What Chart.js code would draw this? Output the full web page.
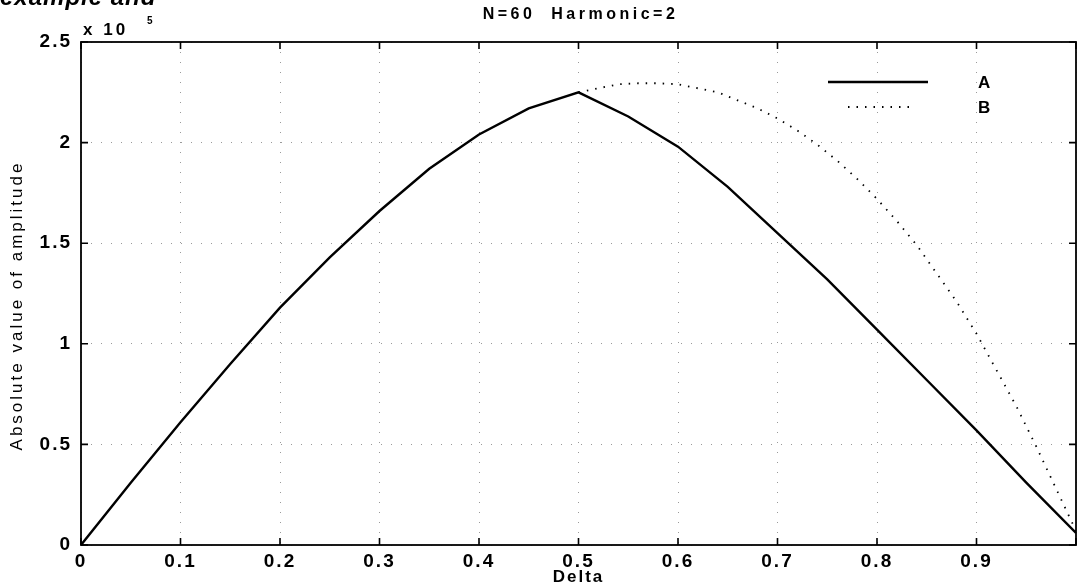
<!DOCTYPE html>
<html>
<head>
<meta charset="utf-8">
<script src="https://cdn.jsdelivr.net/npm/chart.js@4.4.1/dist/chart.umd.min.js"></script>
<style>
  html, body { margin: 0; padding: 0; background: #fff; }
</style>
</head>
<body>
<canvas id="myChart" width="1081" height="586"></canvas>
<script>
// curve A (solid), units of 1e5
const deltaA = [0, 0.05, 0.1, 0.15, 0.2, 0.25, 0.3, 0.35, 0.4, 0.45, 0.5,
                0.55, 0.6, 0.65, 0.7, 0.75, 0.8, 0.85, 0.9, 0.95, 1.0];
const ampA = [0, 0.31, 0.61, 0.90, 1.18, 1.43, 1.66, 1.87, 2.04, 2.17, 2.25,
              2.13, 1.98, 1.78, 1.55, 1.32, 1.07, 0.82, 0.57, 0.31, 0.06];

// curve B (dotted), same as A up to 0.5
const deltaB = [0.5, 0.52, 0.54, 0.56, 0.58, 0.6, 0.62, 0.64, 0.66, 0.68, 0.7,
                0.72, 0.74, 0.76, 0.78, 0.8, 0.82, 0.84, 0.86, 0.88, 0.9,
                0.92, 0.94, 0.96, 0.98, 1.0];
const ampB = [2.25, 2.27, 2.29, 2.295, 2.295, 2.29, 2.27, 2.25, 2.21, 2.17, 2.12,
              2.06, 1.99, 1.91, 1.82, 1.72, 1.61, 1.49, 1.35, 1.21, 1.05,
              0.87, 0.69, 0.49, 0.28, 0.07];

const xTickValues = [0, 0.1, 0.2, 0.3, 0.4, 0.5, 0.6, 0.7, 0.8, 0.9, 1];
const xTickLabels = ['0', '0.1', '0.2', '0.3', '0.4', '0.5', '0.6', '0.7', '0.8', '0.9', ''];
const yTickValues = [0, 0.5, 1, 1.5, 2, 2.5];
const yTickLabels = ['0', '0.5', '1', '1.5', '2', '2.5'];

const FONT = "'Liberation Sans', Arial, sans-serif";

function toPoints(xs, ys) {
    const pts = [];
    for (let i = 0; i < xs.length; i++) {
        pts.push({ x: xs[i], y: ys[i] });
    }
    return pts;
}

function text(ctx, str, x, y, font, align, spacing) {
    ctx.save();
    ctx.font = font;
    ctx.letterSpacing = spacing || '0px';
    ctx.fillStyle = '#000';
    ctx.textAlign = align || 'left';
    ctx.textBaseline = 'middle';
    ctx.fillText(str, x, y);
    ctx.restore();
}

// matlab-like frame: box, inward ticks, legend, title, labels
const matlabFrame = {
    id: 'matlabFrame',
    beforeDraw(chart) {
        const ctx = chart.ctx;
        ctx.save();
        ctx.fillStyle = '#fff';
        ctx.fillRect(0, 0, chart.width, chart.height);
        ctx.restore();
        ctx.letterSpacing = '2px';
    },
    afterDraw(chart) {
        const ctx = chart.ctx;
        const a = chart.chartArea;
        const xs = chart.scales.x;
        const ys = chart.scales.y;

        ctx.save();
        ctx.letterSpacing = '0px';
        ctx.strokeStyle = '#000';
        ctx.lineWidth = 1.8;
        ctx.strokeRect(a.left, a.top, a.right - a.left, a.bottom - a.top);

        const tl = 7;
        ctx.lineWidth = 1.6;
        ctx.beginPath();
        xTickValues.forEach(v => {
            const px = xs.getPixelForValue(v);
            ctx.moveTo(px, a.bottom); ctx.lineTo(px, a.bottom - tl);
            ctx.moveTo(px, a.top); ctx.lineTo(px, a.top + tl);
        });
        yTickValues.forEach(v => {
            const py = ys.getPixelForValue(v);
            ctx.moveTo(a.left, py); ctx.lineTo(a.left + tl, py);
            ctx.moveTo(a.right, py); ctx.lineTo(a.right - tl, py);
        });
        ctx.stroke();

        // legend
        const dsA = chart.data.datasets[0];
        const dsB = chart.data.datasets[1];
        ctx.strokeStyle = dsA.borderColor;
        ctx.lineWidth = dsA.borderWidth;
        ctx.beginPath();
        ctx.moveTo(a.right - 248, 82); ctx.lineTo(a.right - 148, 82);
        ctx.stroke();
        ctx.lineWidth = dsB.borderWidth;
        ctx.setLineDash(dsB.borderDash);
        ctx.beginPath();
        ctx.moveTo(a.right - 228, 107); ctx.lineTo(a.right - 163, 107);
        ctx.stroke();
        ctx.restore();

        text(ctx, dsA.label, a.right - 98, 83, 'bold 17px ' + FONT, 'left', '1px');
        text(ctx, dsB.label, a.right - 98, 108, 'bold 17px ' + FONT, 'left', '1px');

        // title
        text(ctx, 'N=60  Harmonic=2', (a.left + a.right) / 2 + 2, 15, 'bold 16px ' + FONT, 'center', '3.5px');
        // exponent
        text(ctx, 'x 10', a.left + 2, 30, 'bold 17px ' + FONT, 'left', '3px');
        text(ctx, '5', a.left + 66, 21, 'bold 10px ' + FONT, 'left', '0px');
        // axis titles
        text(ctx, 'Delta', (a.left + a.right) / 2, 577, 'bold 17px ' + FONT, 'center', '2px');
        ctx.save();
        ctx.translate(17, (a.top + a.bottom) / 2 + 12);
        ctx.rotate(-Math.PI / 2);
        text(ctx, 'Absolute value of amplitude', 0, 0, '17px ' + FONT, 'center', '3px');
        ctx.restore();

        // cropped caption from the page above
        ctx.save();
        ctx.font = 'italic bold 24px ' + FONT;
        ctx.letterSpacing = '1px';
        ctx.fillStyle = '#000';
        ctx.textBaseline = 'alphabetic';
        ctx.fillText('example and', 0, 5);
        ctx.restore();
    }
};

const ctx = document.getElementById('myChart').getContext('2d');
const myChart = new Chart(ctx, {
    type: 'line',
    data: {
        datasets: [{
            label: 'A',
            data: toPoints(deltaA, ampA),
            borderColor: '#000',
            borderWidth: 2.4,
            pointRadius: 0,
            tension: 0,
            fill: false
        }, {
            label: 'B',
            data: toPoints(deltaB, ampB),
            borderColor: '#000',
            borderWidth: 1.8,
            borderDash: [1.5, 7],
            pointRadius: 0,
            tension: 0,
            fill: false
        }]
    },
    options: {
        responsive: false,
        animation: false,
        devicePixelRatio: 1,
        layout: { padding: { top: 42, right: 3, left: 0, bottom: 0 } },
        plugins: {
            legend: { display: false },
            title: { display: false },
            tooltip: { enabled: false }
        },
        scales: {
            x: {
                type: 'linear',
                min: 0,
                max: 1,
                afterBuildTicks: (scale) => {
                    scale.ticks = xTickValues.map(v => ({ value: v }));
                },
                afterFit: (scale) => { scale.height = 41; },
                ticks: {
                    autoSkip: false,
                    maxRotation: 0,
                    padding: 5,
                    color: '#000',
                    font: { family: FONT, size: 19, weight: 'bold' },
                    callback: (v, i) => xTickLabels[i]
                },
                grid: { color: '#9a9a9a', lineWidth: 1, drawTicks: false },
                border: { display: false, dash: [1, 9] }
            },
            y: {
                type: 'linear',
                min: 0,
                max: 2.5,
                afterBuildTicks: (scale) => {
                    scale.ticks = yTickValues.map(v => ({ value: v }));
                },
                afterFit: (scale) => { scale.width = 81; },
                ticks: {
                    padding: 9,
                    color: '#000',
                    font: { family: FONT, size: 19, weight: 'bold' },
                    callback: (v, i) => yTickLabels[i]
                },
                grid: { color: '#9a9a9a', lineWidth: 1, drawTicks: false },
                border: { display: false, dash: [1, 9] }
            }
        }
    },
    plugins: [matlabFrame]
});
</script>
</body>
</html>
